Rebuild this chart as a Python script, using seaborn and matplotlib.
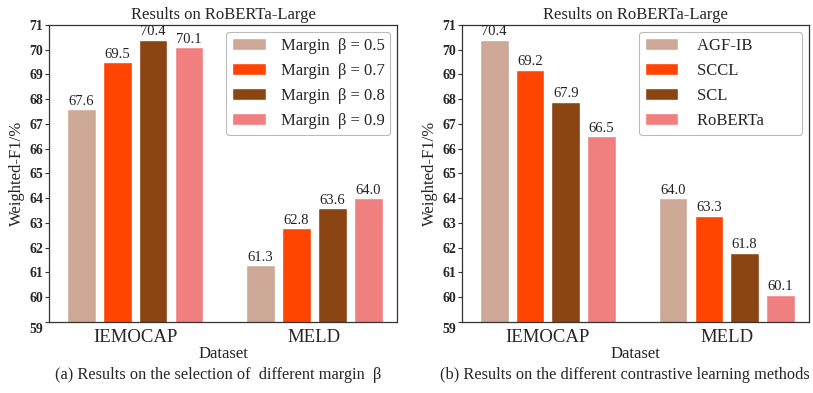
import matplotlib
matplotlib.use("Agg")
import matplotlib.pyplot as plt
import matplotlib.transforms as mtransforms
import seaborn as sns
import pandas as pd

datasets = ["IEMOCAP", "MELD"]

margin_labels = ["Margin  \u03b2 = 0.5", "Margin  \u03b2 = 0.7",
                 "Margin  \u03b2 = 0.8", "Margin  \u03b2 = 0.9"]
margin_iemocap = [67.6, 69.5, 70.4, 70.1]
margin_meld = [61.3, 62.8, 63.6, 64.0]

method_labels = ["AGF-IB", "SCCL", "SCL", "RoBERTa"]
method_iemocap = [70.4, 69.2, 67.9, 66.5]
method_meld = [64.0, 63.3, 61.8, 60.1]

yticks = list(range(59, 72))
colors = ["#CDA896", "#FF4500", "#8B4513", "#F08080"]

sns.set_theme(style="white")
plt.rcParams["font.family"] = ["Liberation Serif", "DejaVu Serif"]


def long_table(labels, iemocap, meld):
    rows = []
    for lab, a, b in zip(labels, iemocap, meld):
        rows.append({"Dataset": datasets[0], "setting": lab, "value": a})
        rows.append({"Dataset": datasets[1], "setting": lab, "value": b})
    return pd.DataFrame(rows)


fig = plt.figure(figsize=(8.13, 3.93), dpi=100)
ax_a = fig.add_axes([49 / 813, 71 / 393, 348 / 813, 297 / 393])
ax_b = fig.add_axes([462 / 813, 71 / 393, 347 / 813, 297 / 393])

panels = [
    (ax_a, long_table(margin_labels, margin_iemocap, margin_meld), margin_labels,
     "(a) Results on the selection of  different margin  \u03b2", 218 / 813, 0.9, ""),
    (ax_b, long_table(method_labels, method_iemocap, method_meld), method_labels,
     "(b) Results on the different contrastive learning methods", 625 / 813, 1.1,
     "        "),
]

for ax, df, labels, caption, cx, textpad, tail in panels:
    sns.barplot(data=df, x="Dataset", y="value", hue="setting",
                hue_order=labels, order=datasets, palette=colors,
                width=0.8, gap=0.2, saturation=1, ax=ax, errorbar=None)
    for cont in ax.containers:
        ax.bar_label(cont, fmt="%.1f", padding=1, fontsize=10.5, color="#222222")
    ax.set_ylim(59, 71)
    ax.set_xlim(-0.48, 1.46)
    ax.set_yticks(yticks)
    ax.set_yticklabels([str(t) for t in yticks], fontsize=10, fontweight="bold")
    ax.tick_params(axis="y", length=3, width=0.8, pad=1, color="#333333", left=True)
    ax.tick_params(axis="x", length=0, labelsize=13.5, pad=5)
    ax.set_xlabel("Dataset", fontsize=12, labelpad=0)
    ax.set_ylabel("Weighted-F1/%", fontsize=12, labelpad=3)
    ax.set_title("Results on RoBERTa-Large", fontsize=12, pad=4)
    for sp in ax.spines.values():
        sp.set_color("#333333")
        sp.set_linewidth(0.9)
    # the lowest tick label sits slightly below the frame
    low = ax.get_yticklabels()[0]
    low.set_transform(low.get_transform() +
                      mtransforms.ScaledTranslation(0, -6 / 100, fig.dpi_scale_trans))
    handles, labs = ax.get_legend_handles_labels()
    leg = ax.legend(handles, [l + tail for l in labs], loc="upper right", fontsize=12,
                    handlelength=2.0, handleheight=0.75, handletextpad=textpad,
                    labelspacing=0.55, borderpad=0.35, borderaxespad=0.4,
                    frameon=True, fancybox=True, edgecolor="#bbbbbb",
                    framealpha=1)
    leg.get_frame().set_linewidth(0.8)
    fig.text(cx, 18 / 393, caption, ha="center", va="center", fontsize=11.8)

fig.savefig("out.png", dpi=100)
